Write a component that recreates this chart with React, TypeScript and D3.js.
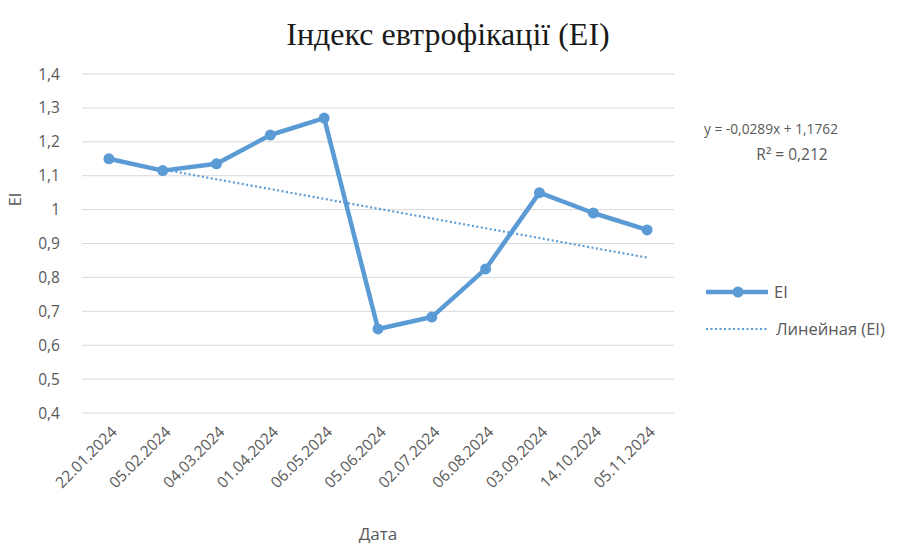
import React, { useEffect, useRef } from "react";
import * as d3 from "d3";

const W = 898;
const H = 545;

const dates = ["22.01.2024", "05.02.2024", "04.03.2024", "01.04.2024", "06.05.2024", "05.06.2024", "02.07.2024", "06.08.2024", "03.09.2024", "14.10.2024", "05.11.2024"];
const eiValues = [1.15, 1.115, 1.135, 1.22, 1.27, 0.648, 0.683, 0.825, 1.05, 0.99, 0.94];
const yTicks = [0.4, 0.5, 0.6, 0.7, 0.8, 0.9, 1.0, 1.1, 1.2, 1.3, 1.4];
const trendSlope = -0.0289;
const trendIntercept = 1.1762;

const BLUE = "#5b9bd5";
const TEXT = "#595959";
const FONT = "'Open Sans', 'Noto Sans', sans-serif";

const fmt = (v: number) => (Math.round(v * 10) / 10).toString().replace(".", ",");

export default function App() {
  const svgRef = useRef<SVGSVGElement | null>(null);

  useEffect(() => {
    if (!svgRef.current) return;
    const svg = d3.select(svgRef.current);
    svg.selectAll("*").remove();

    const left = 82, right = 674, top = 74, bottom = 413;

    const x = d3.scaleBand<string>().domain(dates).range([left, right]);
    const cx = (d: string) => (x(d) ?? 0) + x.bandwidth() / 2;
    const y = d3.scaleLinear().domain([0.4, 1.4]).range([bottom, top]);

    svg.append("rect").attr("width", W).attr("height", H).attr("fill", "#fff");

    // title
    svg.append("text")
      .attr("x", 448).attr("y", 45)
      .attr("text-anchor", "middle")
      .attr("font-family", "'Liberation Serif', serif")
      .attr("font-size", "32px")
      .attr("fill", "#1a1a1a")
      .text("Індекс евтрофікації (EI)");

    // grid + y labels
    yTicks.forEach(t => {
      svg.append("line")
        .attr("x1", left).attr("x2", right)
        .attr("y1", y(t)).attr("y2", y(t))
        .attr("stroke", "#d9d9d9").attr("stroke-width", 1);
      svg.append("text")
        .attr("x", 60).attr("y", y(t) + 5.5)
        .attr("text-anchor", "end")
        .attr("font-family", FONT).attr("font-size", "15.5px")
        .attr("fill", TEXT)
        .text(fmt(t));
    });

    // y title
    svg.append("text")
      .attr("transform", `translate(21,${(top + bottom) / 2 - 44}) rotate(-90)`)
      .attr("text-anchor", "middle")
      .attr("font-family", FONT).attr("font-size", "16px")
      .attr("fill", TEXT)
      .text("EI");

    // x labels
    dates.forEach(d => {
      svg.append("text")
        .attr("transform", `translate(${cx(d) + 9},${bottom + 20}) rotate(-45)`)
        .attr("text-anchor", "end")
        .attr("font-family", FONT).attr("font-size", "15.5px")
        .attr("fill", TEXT)
        .text(d);
    });

    svg.append("text")
      .attr("x", 378).attr("y", 540)
      .attr("text-anchor", "middle")
      .attr("font-family", FONT).attr("font-size", "17px")
      .attr("fill", TEXT)
      .text("Дата");

    // trend line
    const trendPts = dates.map((d, i) => [cx(d), y(trendSlope * (i + 1) + trendIntercept)] as [number, number]);
    svg.append("path")
      .attr("d", d3.line()(trendPts))
      .attr("fill", "none")
      .attr("stroke", BLUE).attr("stroke-width", 2.2)
      .attr("stroke-dasharray", "2,2.5");

    // series
    const pts = dates.map((d, i) => [cx(d), y(eiValues[i])] as [number, number]);
    svg.append("path")
      .attr("d", d3.line()(pts))
      .attr("fill", "none")
      .attr("stroke", BLUE).attr("stroke-width", 4.5)
      .attr("stroke-linejoin", "round");
    pts.forEach(p => {
      svg.append("circle")
        .attr("cx", p[0]).attr("cy", p[1]).attr("r", 5.5)
        .attr("fill", BLUE);
    });

    // equation
    svg.append("text")
      .attr("x", 771).attr("y", 134)
      .attr("text-anchor", "middle")
      .attr("font-family", FONT).attr("font-size", "15px")
      .attr("textLength", 134).attr("lengthAdjust", "spacingAndGlyphs")
      .attr("fill", TEXT)
      .text("y = -0,0289x + 1,1762");
    svg.append("text")
      .attr("x", 792).attr("y", 160)
      .attr("text-anchor", "middle")
      .attr("font-family", FONT).attr("font-size", "15.5px")
      .attr("fill", TEXT)
      .text("R² = 0,212");

    // legend
    svg.append("line")
      .attr("x1", 706).attr("x2", 768).attr("y1", 292).attr("y2", 292)
      .attr("stroke", BLUE).attr("stroke-width", 4.5);
    svg.append("circle").attr("cx", 738).attr("cy", 292).attr("r", 5.5).attr("fill", BLUE);
    svg.append("text")
      .attr("x", 774).attr("y", 298)
      .attr("font-family", FONT).attr("font-size", "16.5px")
      .attr("fill", TEXT)
      .text("EI");
    svg.append("line")
      .attr("x1", 706).attr("x2", 768).attr("y1", 329).attr("y2", 329)
      .attr("stroke", BLUE).attr("stroke-width", 2.2)
      .attr("stroke-dasharray", "2,2.5");
    svg.append("text")
      .attr("x", 776).attr("y", 335)
      .attr("font-family", FONT).attr("font-size", "16.5px")
      .attr("fill", TEXT)
      .text("Линейная (EI)");
  }, []);

  return (
    <div style={{ position: "absolute", left: 0, top: 0 }}>
      <svg ref={svgRef} width={W} height={H} style={{ display: "block" }} />
    </div>
  );
}
